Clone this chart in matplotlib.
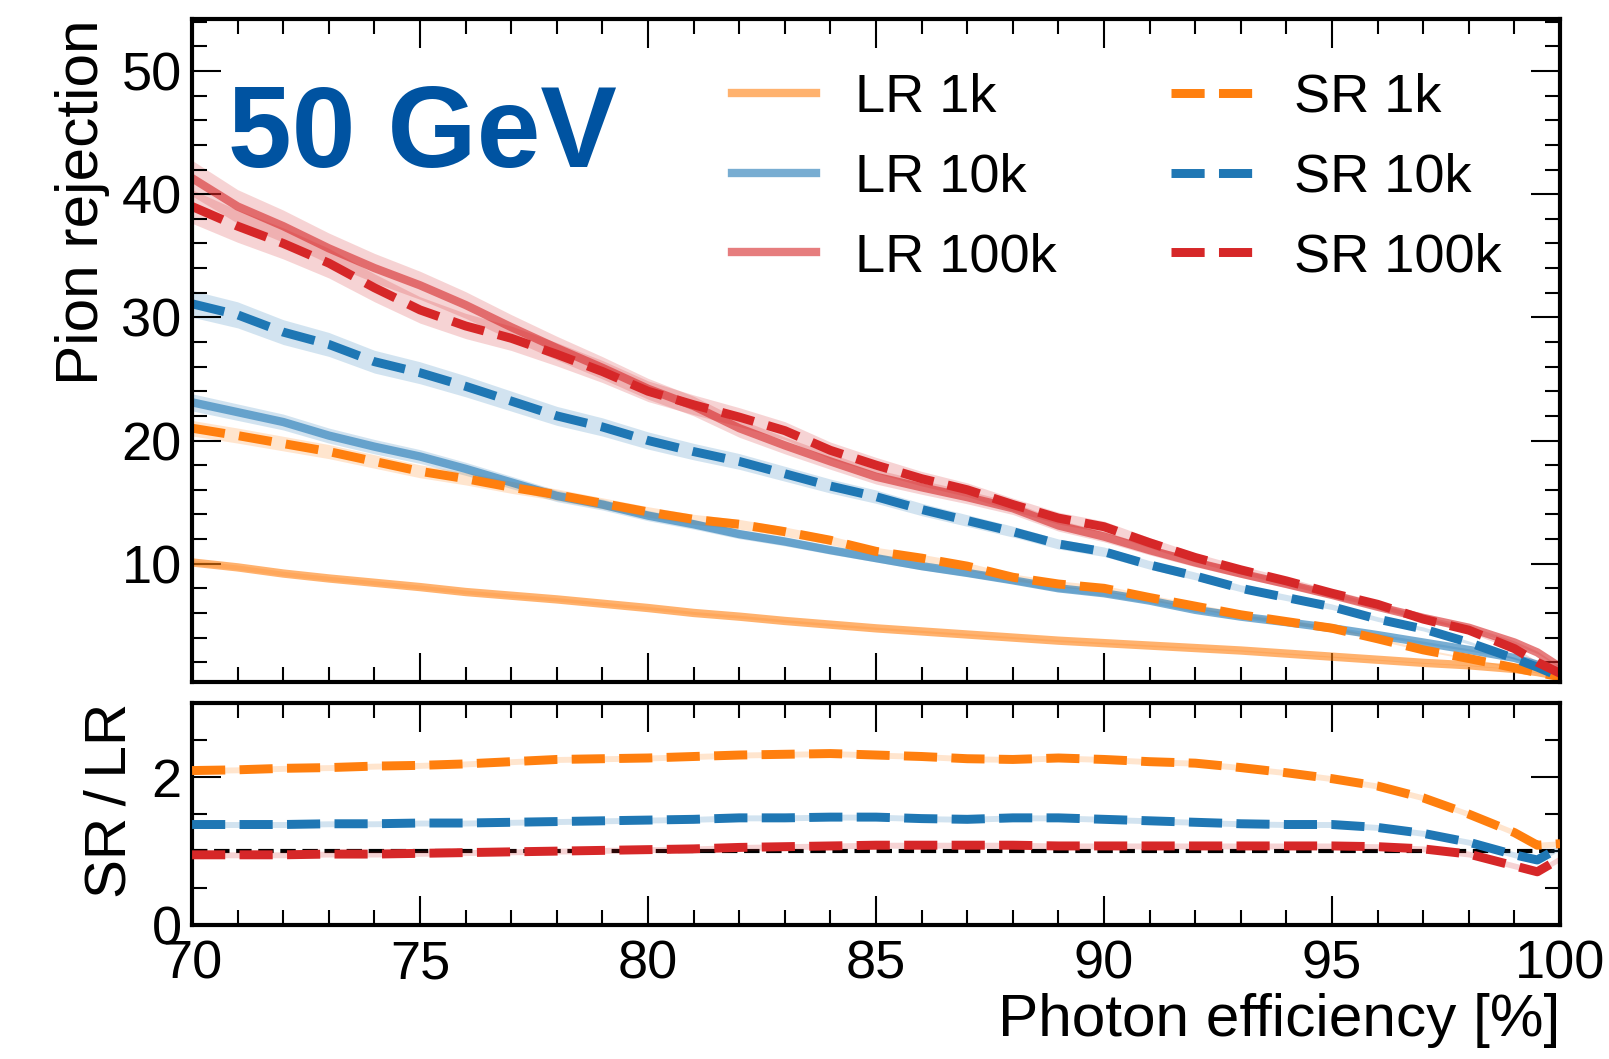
import numpy as np
import matplotlib.pyplot as plt
from matplotlib.ticker import MultipleLocator

plt.rcParams['font.family'] = ['Liberation Sans', 'DejaVu Sans']

# photon efficiency grid [%]
eff = [70, 71, 72, 73, 74, 75, 76, 77, 78, 79, 80, 81, 82, 83, 84, 85,
       86, 87, 88, 89, 90, 91, 92, 93, 94, 95, 96, 97, 98, 99, 99.5, 100]

# pion rejection, LR (solid) and SR (dashed)
lr_1k = [10.1, 9.7, 9.2, 8.8, 8.45, 8.1, 7.7, 7.4, 7.1, 6.75, 6.4, 6.0, 5.7, 5.35, 5.05, 4.75,
         4.5, 4.25, 4.0, 3.75, 3.55, 3.35, 3.15, 2.95, 2.7, 2.45, 2.2, 1.95, 1.75, 1.45, 1.2, 0.85]
lr_10k = [23.1, 22.3, 21.5, 20.4, 19.5, 18.7, 17.7, 16.6, 15.5, 14.8, 13.9, 13.2, 12.4, 11.8, 11.1, 10.45,
          9.8, 9.25, 8.65, 8.0, 7.6, 7.0, 6.25, 5.7, 5.25, 4.76, 4.2, 3.6, 3.0, 2.35, 1.8, 0.9]
lr_100k = [41.3, 39.0, 37.4, 35.6, 34.0, 32.6, 31.0, 29.2, 27.5, 25.9, 24.2, 22.8, 21.0, 19.6, 18.3, 17.06,
           16.2, 15.4, 14.5, 13.1, 12.2, 11.1, 10.1, 9.2, 8.35, 7.46, 6.5, 5.6, 4.8, 3.6, 2.8, 1.6]
sr_1k = [21.0, 20.4, 19.75, 19.1, 18.3, 17.5, 16.9, 16.2, 15.6, 14.9, 14.2, 13.6, 13.2, 12.6, 11.9, 11.0,
         10.45, 9.8, 8.9, 8.35, 8.0, 7.25, 6.55, 5.85, 5.3, 4.76, 3.9, 3.0, 2.3, 1.55, 1.15, 0.83]
sr_10k = [31.1, 30.2, 28.8, 27.8, 26.4, 25.5, 24.4, 23.2, 22.0, 21.1, 20.0, 19.1, 18.3, 17.3, 16.3, 15.44,
          14.4, 13.5, 12.6, 11.6, 10.97, 9.9, 9.0, 8.0, 7.25, 6.5, 5.5, 4.7, 3.6, 2.3, 1.6, 0.83]
sr_100k = [39.0, 37.4, 36.0, 34.4, 32.4, 30.6, 29.3, 28.3, 27.0, 25.6, 24.0, 22.9, 21.9, 20.8, 19.2, 18.0,
           16.9, 16.0, 14.8, 13.7, 13.0, 11.7, 10.5, 9.5, 8.6, 7.6, 6.7, 5.5, 4.6, 3.1, 2.0, 1.1]

# SR / LR ratio as drawn in the lower panel
ratio_1k = [2.09, 2.10, 2.12, 2.13, 2.15, 2.16, 2.18, 2.21, 2.24, 2.25, 2.26, 2.28, 2.30, 2.31, 2.32, 2.30,
            2.28, 2.25, 2.24, 2.26, 2.24, 2.21, 2.19, 2.13, 2.06, 1.98, 1.88, 1.72, 1.50, 1.25, 1.08, 1.10]
ratio_10k = [1.36, 1.36, 1.36, 1.37, 1.37, 1.38, 1.38, 1.39, 1.40, 1.41, 1.42, 1.43, 1.45, 1.45, 1.46, 1.46,
             1.44, 1.43, 1.45, 1.45, 1.43, 1.41, 1.39, 1.37, 1.36, 1.36, 1.32, 1.24, 1.12, 0.95, 0.88, 1.05]
ratio_100k = [0.95, 0.95, 0.95, 0.96, 0.96, 0.97, 0.98, 0.99, 1.00, 1.01, 1.02, 1.03, 1.05, 1.06, 1.07, 1.08,
              1.08, 1.08, 1.08, 1.07, 1.07, 1.07, 1.07, 1.07, 1.07, 1.07, 1.06, 1.03, 0.96, 0.80, 0.72, 0.90]

sizes = ['1k', '10k', '100k']
colors = ['#ff7f0e', '#1f77b4', '#d62728']
lr_all = [lr_1k, lr_10k, lr_100k]
sr_all = [sr_1k, sr_10k, sr_100k]
ratio_all = [ratio_1k, ratio_10k, ratio_100k]
# relative uncertainty used for the shaded bands
lr_err = [0.02, 0.03, 0.035]
sr_err = [0.03, 0.035, 0.035]
ratio_err = 0.04

x = np.array(eff)

fig = plt.figure(figsize=(1610 / 150, 1059 / 150), dpi=150)
ax = fig.add_axes([0.1193, 0.3563, 0.8497, 0.6255])
rax = fig.add_axes([0.1193, 0.1265, 0.8497, 0.2094], sharex=ax)

for n, c, y, e in zip(sizes, colors, lr_all, lr_err):
    y = np.array(y)
    ax.fill_between(x, y * (1 - e), y * (1 + e), color=c, alpha=0.2, lw=0)
    ax.plot(x, y, color=c, alpha=0.6, lw=4, label=f'LR {n}')
for n, c, y, e in zip(sizes, colors, sr_all, sr_err):
    y = np.array(y)
    ax.fill_between(x, y * (1 - e), y * (1 + e), color=c, alpha=0.2, lw=0)
    ax.plot(x, y, color=c, lw=4.3, ls='--', label=f'SR {n}')

rax.axhline(1, color='black', ls='--', lw=2, zorder=1)
for c, r in zip(colors, ratio_all):
    r = np.array(r)
    rax.fill_between(x, r - ratio_err, r + ratio_err, color=c, alpha=0.2, lw=0, zorder=2)
    rax.plot(x, r, color=c, lw=4.3, ls='--', zorder=3)

ax.set_xlim(70, 100)
ax.set_ylim(0.42, 54.2)
rax.set_ylim(0, 3)

ax.yaxis.set_major_locator(MultipleLocator(10))
ax.yaxis.set_minor_locator(MultipleLocator(2))
ax.xaxis.set_major_locator(MultipleLocator(5))
ax.xaxis.set_minor_locator(MultipleLocator(1))
rax.yaxis.set_major_locator(MultipleLocator(2))
rax.yaxis.set_minor_locator(MultipleLocator(0.5))

for a in (ax, rax):
    for s in a.spines.values():
        s.set_linewidth(2)
    a.tick_params(which='both', direction='in', top=True, right=True, labelsize=26, pad=5)
    a.tick_params(which='major', length=14, width=1)
    a.tick_params(which='minor', length=7, width=1)
ax.tick_params(labelbottom=False)
rax.tick_params(axis='x', pad=7)

ax.set_ylabel('Pion rejection', fontsize=29, loc='top')
ax.yaxis.set_label_coords(-0.06, 1.0)
rax.set_ylabel('SR\u2009/\u2009LR', fontsize=28, loc='top')
rax.yaxis.set_label_coords(-0.04, 1.0)
rax.set_xlabel('Photon efficiency [%]', fontsize=29, loc='right')
rax.xaxis.set_label_coords(1.0, -0.305)

ax.text(0.026, 0.7775, '50 GeV', transform=ax.transAxes, fontsize=55,
        fontweight='bold', color='#0053a1', va='baseline', ha='left')

ax.legend(ncol=2, frameon=False, fontsize=26, loc='upper left',
          bbox_to_anchor=(0.379, 0.952), borderaxespad=0,
          handlelength=1.55, handletextpad=0.72, columnspacing=2.1, labelspacing=0.55)

fig.savefig('out.png', dpi=150)
